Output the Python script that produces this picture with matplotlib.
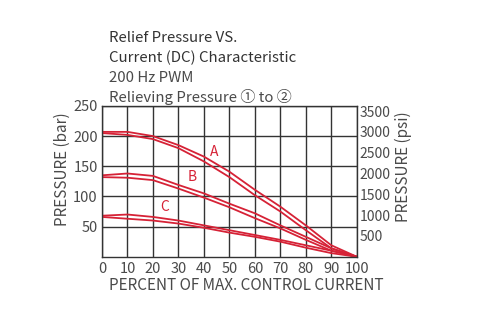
import numpy as np
import matplotlib
matplotlib.use("Agg")
import matplotlib.pyplot as plt

plt.rcParams['font.family'] = ['Noto Sans CJK SC', 'DejaVu Sans']

# percent of max control current
pct = [0, 10, 20, 30, 40, 50, 60, 70, 80, 90, 100]

# relief pressure (bar), each curve as a hysteresis pair
a_up = [207, 207, 200, 185, 166, 141, 111, 83, 52, 19, 0]
a_lo = [205, 202, 195, 180, 158, 132, 102, 75, 44, 14, 0]
b_up = [135, 138, 134, 119, 105, 88, 72, 52, 33, 14, 0]
b_lo = [132, 131, 127, 113, 98, 82, 64, 47, 28, 10, 0]
c_up = [68, 70, 66, 60, 52, 44, 36, 28, 19, 10, 0]
c_lo = [66, 63, 60, 55, 48, 40, 33, 25, 15, 6, 0]

curve_names = ['A', 'B', 'C']
name_pos = [(44, 174), (35.5, 132), (24.5, 82)]

bar_ticks = [50, 100, 150, 200, 250]
psi_ticks = [500, 1000, 1500, 2000, 2500, 3000, 3500]
BAR_TO_PSI = 14.5038

red = '#d62236'
txt = '#4a4a4a'

fig = plt.figure(figsize=(4.78, 3.3), dpi=100)
ax = fig.add_axes([0.2134, 0.222, 0.533, 0.457])

for up, lo in [(a_up, a_lo), (b_up, b_lo), (c_up, c_lo)]:
    ax.plot(pct, up, color=red, lw=1.3)
    ax.plot(pct, lo, color=red, lw=1.3)

for name, (px, py) in zip(curve_names, name_pos):
    ax.text(px, py, name, color=red, fontsize=10, ha='center', va='center')

ax.set_xlim(0, 100)
ax.set_ylim(0, 250)
ax.set_xticks(pct)
ax.set_yticks(bar_ticks)
ax.grid(True, color='#333333', lw=1.0)
ax.tick_params(length=0, labelsize=10.5, labelcolor=txt, pad=3)
ax.tick_params(axis='x', pad=4)
for s in ax.spines.values():
    s.set_color('#333333')
    s.set_linewidth(1.0)
ax.set_xlabel('PERCENT OF MAX. CONTROL CURRENT', fontsize=11, color=txt)
ax.xaxis.set_label_coords(0.568, -0.135)
ax.set_ylabel('PRESSURE (bar)', fontsize=11, color=txt)
ax.yaxis.set_label_coords(-0.122, 0.58)

ax2 = ax.twinx()
ax2.set_ylim(0, 250 * BAR_TO_PSI)
ax2.set_yticks(psi_ticks)
ax2.tick_params(length=0, labelsize=10, labelcolor=txt, pad=2)
for s in ax2.spines.values():
    s.set_visible(False)
ax2.set_ylabel('PRESSURE (psi)', fontsize=11, color=txt)
ax2.yaxis.set_label_coords(1.148, 0.6)

fig.text(0.228, 0.885, 'Relief Pressure VS.', fontsize=10.8, color='#333333', va='center')
fig.text(0.228, 0.825, 'Current (DC) Characteristic', fontsize=10.8, color='#333333', va='center')
fig.text(0.228, 0.765, '200 Hz PWM', fontsize=10.8, color=txt, va='center')
fig.text(0.228, 0.705, 'Relieving Pressure \u2460 to \u2461', fontsize=10.8, color=txt, va='center')

fig.savefig('out.png', dpi=100)
